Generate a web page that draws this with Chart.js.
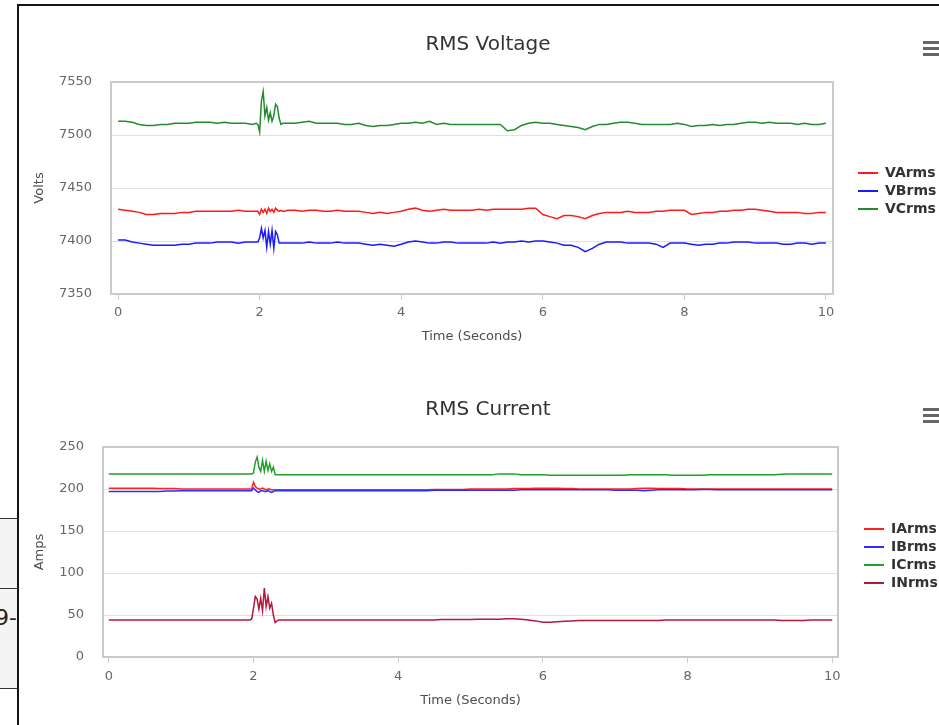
<!DOCTYPE html>
<html>
<head>
<meta charset="utf-8">
<title>RMS Voltage / RMS Current</title>
<script src="https://cdn.jsdelivr.net/npm/chart.js@4.4.1/dist/chart.umd.min.js"></script>
<style>
  html, body { margin: 0; padding: 0; background: #fff; overflow: hidden; }
  body { width: 939px; height: 725px; position: relative; font-family: "DejaVu Sans", sans-serif; }
  canvas { position: absolute; }
  .rule { position: absolute; background: #151515; }
  .cell { position: absolute; left: 0; width: 17px; background: #f4f4f4; border-top: 1.5px solid #333; }
  .cell-text { position: absolute; right: 0; top: 16px; font-size: 22px; color: #222; }
  .menu { position: absolute; left: 923px; width: 18px; }
  .menu div { height: 2.5px; background: #666; margin-bottom: 3.5px; }
</style>
</head>
<body>
<div class="rule" style="left:17px; top:4px; width:922px; height:2px;"></div>
<div class="rule" style="left:17px; top:4px; width:2px; height:721px;"></div>
<div class="cell" style="top:518px; height:69px;"></div>
<div class="cell" style="top:588px; height:99px;"><span class="cell-text">9-</span></div>
<div class="cell" style="top:688px; height:37px; background:#fff;"></div>

<canvas id="voltageChart" width="924" height="352" style="left:20px; top:8px;"></canvas>
<canvas id="currentChart" width="924" height="355" style="left:20px; top:370px;"></canvas>
<div class="menu" style="top:41px;"><div></div><div></div><div></div></div>
<div class="menu" style="top:408px;"><div></div><div></div><div></div></div>

<script>
// sample times (seconds): 0.1 s spacing, finer around the 2 s disturbance
const time = [
  0, 0.1, 0.2, 0.3, 0.4, 0.5, 0.6, 0.7, 0.8, 0.9,
  1, 1.1, 1.2, 1.3, 1.4, 1.5, 1.6, 1.7, 1.8, 1.9,
  1.95, 1.975, 2, 2.025, 2.05, 2.075, 2.1, 2.125, 2.15, 2.175, 2.2, 2.225, 2.25, 2.275, 2.3, 2.325, 2.35,
  2.4, 2.5, 2.6, 2.7, 2.8, 2.9,
  3, 3.1, 3.2, 3.3, 3.4, 3.5, 3.6, 3.7, 3.8, 3.9,
  4, 4.1, 4.2, 4.3, 4.4, 4.5, 4.6, 4.7, 4.8, 4.9,
  5, 5.1, 5.2, 5.3, 5.4, 5.5, 5.6, 5.7, 5.8, 5.9,
  6, 6.1, 6.2, 6.3, 6.4, 6.5, 6.6, 6.7, 6.8, 6.9,
  7, 7.1, 7.2, 7.3, 7.4, 7.5, 7.6, 7.7, 7.8, 7.9,
  8, 8.1, 8.2, 8.3, 8.4, 8.5, 8.6, 8.7, 8.8, 8.9,
  9, 9.1, 9.2, 9.3, 9.4, 9.5, 9.6, 9.7, 9.8, 9.9,
  10
];

const voltageNames = ['VArms', 'VBrms', 'VCrms'];
const currentNames = ['IArms', 'IBrms', 'ICrms', 'INrms'];

const vArms = [
  7430, 7429, 7428, 7427, 7425, 7425, 7426, 7426, 7426, 7427,
  7427, 7428, 7428, 7428, 7428, 7428, 7428, 7429, 7428, 7428,
  7428, 7428, 7425, 7430, 7427, 7430, 7426, 7431, 7428, 7430, 7427, 7431, 7429, 7428, 7429, 7428, 7428,
  7429, 7429, 7428, 7429, 7429, 7428,
  7428, 7429, 7428, 7428, 7428, 7427, 7426, 7427, 7426, 7427,
  7428, 7430, 7431, 7429, 7428, 7429, 7430, 7429, 7429, 7429,
  7429, 7430, 7429, 7430, 7430, 7430, 7430, 7430, 7431, 7431,
  7425, 7423, 7421, 7424, 7424, 7423, 7421, 7424, 7426, 7427,
  7427, 7427, 7428, 7427, 7427, 7427, 7428, 7428, 7429, 7429,
  7429, 7425, 7426, 7427, 7427, 7428, 7428, 7429, 7429, 7430,
  7430, 7429, 7428, 7427, 7427, 7427, 7427, 7426, 7426, 7427,
  7427
];
const vBrms = [
  7401, 7401, 7399, 7398, 7397, 7396, 7396, 7396, 7396, 7397,
  7397, 7398, 7398, 7398, 7399, 7399, 7399, 7398, 7399, 7399,
  7399, 7399, 7403, 7412, 7403, 7410, 7394, 7409, 7397, 7410, 7393, 7409, 7406, 7398, 7398, 7398, 7398,
  7398, 7398, 7398, 7399, 7398, 7398,
  7398, 7399, 7398, 7398, 7398, 7397, 7396, 7397, 7396, 7395,
  7397, 7399, 7400, 7399, 7398, 7398, 7399, 7399, 7398, 7398,
  7398, 7398, 7398, 7399, 7398, 7399, 7399, 7400, 7399, 7400,
  7400, 7399, 7398, 7396, 7396, 7394, 7390, 7393, 7397, 7399,
  7399, 7399, 7398, 7398, 7398, 7398, 7397, 7394, 7398, 7398,
  7398, 7397, 7396, 7397, 7397, 7398, 7398, 7399, 7399, 7399,
  7398, 7398, 7398, 7398, 7397, 7397, 7398, 7398, 7397, 7398,
  7398
];
const vCrms = [
  7513, 7513, 7512, 7510, 7509, 7509, 7510, 7510, 7511, 7511,
  7511, 7512, 7512, 7512, 7511, 7512, 7511, 7511, 7511, 7510,
  7511, 7510, 7503, 7532, 7541, 7518, 7526, 7514, 7521, 7513, 7518, 7529, 7527, 7516, 7510, 7511, 7511,
  7511, 7511, 7512, 7513, 7511, 7511,
  7511, 7511, 7510, 7510, 7511, 7509, 7508, 7509, 7509, 7510,
  7511, 7511, 7512, 7511, 7513, 7510, 7511, 7510, 7510, 7510,
  7510, 7510, 7510, 7510, 7510, 7504, 7505, 7509, 7511, 7512,
  7511, 7511, 7510, 7509, 7508, 7507, 7505, 7508, 7510, 7510,
  7511, 7512, 7512, 7511, 7510, 7510, 7510, 7510, 7510, 7511,
  7510, 7508, 7509, 7509, 7510, 7509, 7510, 7510, 7511, 7512,
  7512, 7511, 7512, 7511, 7511, 7511, 7510, 7511, 7510, 7510,
  7511
];

const iArms = [
  201, 201, 201, 201, 201, 201, 201, 200.5, 200.5, 200.5,
  200, 200, 200, 200, 200, 200, 200, 200, 200, 200,
  200, 200, 208, 203, 201, 200, 200, 201, 200, 199, 200, 200, 199, 199, 199, 199, 199,
  199, 199, 199, 199, 199, 199,
  199, 199, 199, 199, 199, 199, 199, 199, 199, 199,
  199, 199, 199, 199, 199, 199.5, 199.5, 199.5, 199.5, 199.5,
  200, 200, 200, 200, 200, 200, 200.5, 200.5, 200.5, 201,
  201, 201, 201, 200.5, 200.5, 200, 200, 200, 200, 200,
  200, 200, 200, 200.5, 201, 201, 200.5, 200.5, 200.5, 200.5,
  200, 200, 200, 200, 200, 200, 200, 200, 200, 200,
  200, 200, 200, 200, 200, 200, 200, 200, 200, 200,
  200
];
const iBrms = [
  197, 197, 197, 197, 197, 197, 197, 197, 197.5, 197.5,
  198, 198, 198, 198, 198, 198, 198, 198, 198, 198,
  198, 198, 201, 199, 197, 196, 198, 198, 197, 197, 198, 197, 196, 197, 198, 198, 198,
  198, 198, 198, 198, 198, 198,
  198, 198, 198, 198, 198, 198, 198, 198, 198, 198,
  198, 198, 198, 198, 198, 198.5, 198.5, 198.5, 198.5, 198.5,
  198.5, 198.5, 198.5, 198.5, 198.5, 198.5, 198.5, 199, 199, 199,
  199, 199, 199, 199, 199, 199, 199, 199, 199, 199,
  198.5, 198.5, 198.5, 198.5, 198, 198.5, 199, 199, 199, 199,
  199, 199, 199.5, 199.5, 199, 199, 199, 199, 199, 199,
  199, 199, 199, 199, 199, 199, 199, 199, 199, 199,
  199
];
const iCrms = [
  218, 218, 218, 218, 218, 218, 218, 218, 218, 218,
  218, 218, 218, 218, 218, 218, 218, 218, 218, 218,
  218, 218, 219, 232, 238, 226, 221, 234, 221, 233, 222, 230, 221, 226, 217, 217, 217,
  217, 217, 217, 217, 217, 217,
  217, 217, 217, 217, 217, 217, 217, 217, 217, 217,
  217, 217, 217, 217, 217, 217, 217, 217, 217, 217,
  217, 217, 217, 217, 218, 218, 218, 217, 217, 217,
  217, 216.5, 216.5, 216.5, 216.5, 216.5, 216.5, 216.5, 216.5, 216.5,
  216.5, 216.5, 217, 217, 217, 217, 217, 217, 216.5, 216.5,
  216.5, 216.5, 216.5, 217, 217, 217, 217, 217, 217, 217,
  217, 217, 217, 217.5, 218, 218, 218, 218, 218, 218,
  218
];
const iNrms = [
  44, 44, 44, 44, 44, 44, 44, 44, 44, 44,
  44, 44, 44, 44, 44, 44, 44, 44, 44, 44,
  44, 45, 58, 72, 69, 57, 70, 55, 82, 60, 72, 58, 64, 50, 41, 43, 44,
  44, 44, 44, 44, 44, 44,
  44, 44, 44, 44, 44, 44, 44, 44, 44, 44,
  44, 44, 44, 44, 44, 44, 44.5, 44.5, 44.5, 44.5,
  44.5, 45, 45, 45, 45, 45.5, 45.5, 45, 44, 43,
  41.5, 41.5, 42, 42.5, 43, 43.5, 43.5, 43.5, 43.5, 43.5,
  43.5, 43.5, 43.5, 43.5, 43.5, 43.5, 43.5, 44, 44, 44,
  44, 44, 44, 44, 44, 44, 44, 44, 44, 44,
  44, 44, 44, 43.5, 43.5, 43.5, 43.5, 44, 44, 44,
  44
];

const voltageColors = ['#ff1a1a', '#1a1aff', '#238a2e'];
const currentColors = ['#ff2020', '#2d2dff', '#23a02a', '#b4183e'];

Chart.defaults.font.family = '"DejaVu Sans", sans-serif';
Chart.defaults.animation = false;

// grey frame round the plot area, like the original
const plotBorder = {
  id: 'plotBorder',
  beforeDatasetsDraw(chart) {
    const { ctx, chartArea: a } = chart;
    ctx.save();
    ctx.strokeStyle = '#c9c9c9';
    ctx.lineWidth = 2;
    ctx.strokeRect(a.left, a.top, a.right - a.left, a.bottom - a.top);
    ctx.restore();
  }
};

function makeSeries(names, values, colors) {
  return names.map((name, i) => ({
    label: name,
    data: time.map((t, k) => ({ x: t, y: values[i][k] })),
    borderColor: colors[i],
    backgroundColor: colors[i],
    borderWidth: 1.5,
    pointRadius: 0,
    pointHoverRadius: 0,
    pointBorderWidth: 2,
    tension: 0,
    order: names.length - i
  }));
}

function makeChart(id, cfg) {
  return new Chart(document.getElementById(id), {
    type: 'line',
    data: { datasets: makeSeries(cfg.names, cfg.values, cfg.colors) },
    options: {
      responsive: false,
      events: [],
      layout: { padding: { left: 12, right: 0, top: 0, bottom: cfg.padBottom } },
      plugins: {
        tooltip: { enabled: false },
        title: {
          display: true,
          text: cfg.title,
          color: '#333',
          font: { size: 20, weight: 'normal' },
          padding: cfg.titlePad
        },
        legend: {
          position: 'right',
          fullSize: false,
          reverse: true,
          maxWidth: cfg.legendWidth,
          title: { display: true, text: '', padding: 0, font: { size: cfg.legendShift, lineHeight: 1 } },
          labels: {
            usePointStyle: true,
            pointStyle: 'line',
            pointStyleWidth: 20,
            padding: 4,
            color: '#333',
            font: { size: 14, weight: 'bold' }
          }
        }
      },
      scales: {
        x: {
          type: 'linear',
          min: cfg.xMin,
          max: cfg.xMax,
          ticks: {
            stepSize: 2,
            includeBounds: false,
            color: '#666',
            padding: cfg.xTickPad,
            font: { size: 13 },
            callback: (v) => String(v)
          },
          grid: { drawOnChartArea: false, drawTicks: true, tickLength: 6, color: '#c0d0e0' },
          border: { display: false },
          title: { display: true, text: 'Time (Seconds)', color: '#4d4d4d', font: { size: 13 }, padding: 0 },
          afterFit(s) { s.height = cfg.xHeight; }
        },
        y: {
          min: cfg.yMin,
          max: cfg.yMax,
          ticks: {
            stepSize: 50,
            color: '#666',
            padding: 19,
            font: { size: 13 },
            callback: (v) => String(v)
          },
          grid: { color: '#e0e0e0', drawTicks: false },
          border: { display: false },
          title: { display: true, text: cfg.yTitle, color: '#4d4d4d', font: { size: 13 }, padding: 0 },
          afterFit(s) { s.width = cfg.yWidth; }
        },
        // empty gap between the plot and the legend
        gap: {
          type: 'linear',
          position: 'right',
          ticks: { display: false },
          grid: { display: false },
          border: { display: false },
          afterFit(s) { s.width = cfg.gapWidth; }
        }
      }
    },
    plugins: [plotBorder]
  });
}

makeChart('voltageChart', {
  title: 'RMS Voltage',
  yTitle: 'Volts',
  names: voltageNames,
  values: [vArms, vBrms, vCrms],
  colors: voltageColors,
  xMin: -0.1, xMax: 10.1,
  yMin: 7350, yMax: 7550,
  titlePad: { top: 25, bottom: 25 },
  padBottom: 16,
  xHeight: 50,
  xTickPad: 5,
  yWidth: 79,
  gapWidth: 21,
  legendWidth: 90,
  legendShift: 6
});

makeChart('currentChart', {
  title: 'RMS Current',
  yTitle: 'Amps',
  names: currentNames,
  values: [iArms, iBrms, iCrms, iNrms],
  colors: currentColors,
  xMin: -0.08, xMax: 10.08,
  yMin: 0, yMax: 250,
  titlePad: { top: 28, bottom: 25 },
  padBottom: 17,
  xHeight: 51,
  xTickPad: 6,
  yWidth: 71,
  gapWidth: 22,
  legendWidth: 84,
  legendShift: 8
});
</script>
</body>
</html>
